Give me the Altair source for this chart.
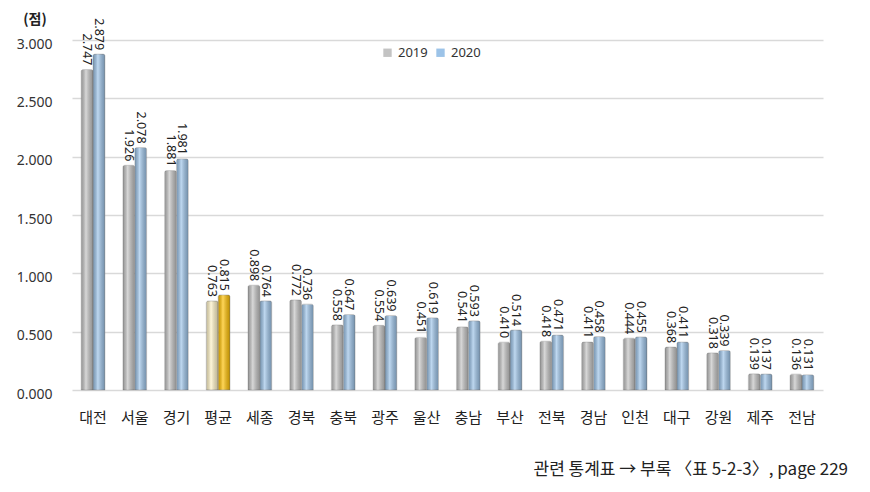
import altair as alt
import pandas as pd

categories = ["대전", "서울", "경기", "평균", "세종", "경북", "충북", "광주", "울산",
              "충남", "부산", "전북", "경남", "인천", "대구", "강원", "제주", "전남"]
v2019 = [2.747, 1.926, 1.881, 0.763, 0.898, 0.772, 0.558, 0.554, 0.451,
         0.541, 0.410, 0.418, 0.411, 0.444, 0.368, 0.318, 0.139, 0.136]
v2020 = [2.879, 2.078, 1.981, 0.815, 0.764, 0.736, 0.647, 0.639, 0.619,
         0.593, 0.514, 0.471, 0.458, 0.455, 0.411, 0.339, 0.137, 0.131]
years = ["2019", "2020"]
y_ticks = [0.0, 0.5, 1.0, 1.5, 2.0, 2.5, 3.0]
unit_label = "(점)"
source_note = "관련 통계표 → 부록 〈표 5-2-3〉, page 229"

rows = []
for c, a, b in zip(categories, v2019, v2020):
    for yr, v in zip(years, (a, b)):
        key = ("평균" + yr) if c == "평균" else yr
        rows.append({"cat": c, "year": yr, "value": v, "key": key})
df = pd.DataFrame(rows)

x = alt.X("cat:N",
          scale=alt.Scale(domain=categories, paddingInner=0.43, paddingOuter=0.22),
          axis=alt.Axis(title=None, labelAngle=0, labelFont="Noto Sans CJK KR",
                        labelFontSize=15, labelColor="#222", labelPadding=20,
                        ticks=False, domain=False))
xo = alt.XOffset("year:N", scale=alt.Scale(domain=years))
y = alt.Y("value:Q", scale=alt.Scale(domain=[0, 3]),
          axis=alt.Axis(values=y_ticks, format=".3f", title=None, domain=False,
                        ticks=False, tickSize=0, labelPadding=20, labelFontSize=14,
                        labelColor="#333", labelFont="Noto Sans", gridColor="#d9d9d9",
                        gridWidth=1.5, labelOffset=4))

base = alt.Chart(df)

bars = base.mark_bar(stroke="#8a8a8a", strokeWidth=0.6, strokeOpacity=0.6,
                     cornerRadiusTopLeft=2, cornerRadiusTopRight=2).encode(
    x=x, xOffset=xo, y=y,
    color=alt.Color("key:N",
                    scale=alt.Scale(domain=["2019", "2020", "평균2019", "평균2020"],
                                    range=["#c3c3c3", "#9cc3e8", "#fff3c6", "#ffc000"]),
                    legend=alt.Legend(values=["2019", "2020"], orient="none",
                                      legendX=309, legendY=6, direction="horizontal",
                                      title=None, symbolType="square", symbolSize=70,
                                      symbolStrokeWidth=0, labelFontSize=13,
                                      labelFont="Noto Sans", labelColor="#333",
                                      columnPadding=6)))

shade = base.mark_bar(
    cornerRadiusTopLeft=2, cornerRadiusTopRight=2,
    fill=alt.Gradient(gradient="linear", x1=0, x2=1, y1=0, y2=0,
                      stops=[alt.GradientStop(offset=0, color="rgba(0,0,0,0.22)"),
                             alt.GradientStop(offset=0.4, color="rgba(255,255,255,0.35)"),
                             alt.GradientStop(offset=1, color="rgba(0,0,0,0.25)")])
).encode(x=x, xOffset=xo, y=y)

labels = base.mark_text(angle=90, align="right", baseline="middle", dx=-4,
                        fontSize=12.5, font="Noto Sans", color="#222").encode(
    x=x, xOffset=xo, y=y, text=alt.Text("value:Q", format=".3f"))

unit = alt.Chart(pd.DataFrame({"t": [unit_label]})).mark_text(
    fontSize=14, fontWeight="bold", font="Noto Sans CJK KR", color="#222"
).encode(text="t:N", x=alt.value(-37), y=alt.value(-20))

note = alt.Chart(pd.DataFrame({"t": [source_note]})).mark_text(
    fontSize=17, font="Noto Sans CJK KR", color="#222", align="right"
).encode(text="t:N", x=alt.value(776), y=alt.value(430))

chart = alt.layer(bars, shade, labels, unit, note).properties(
    width=751, height=350,
    padding={"left": 64, "top": 32, "right": 39, "bottom": 94},
    autosize=alt.AutoSizeParams(type="none"),
).configure_view(stroke=None)

chart.save("out.html", embed_options={"renderer": "svg", "actions": False})
